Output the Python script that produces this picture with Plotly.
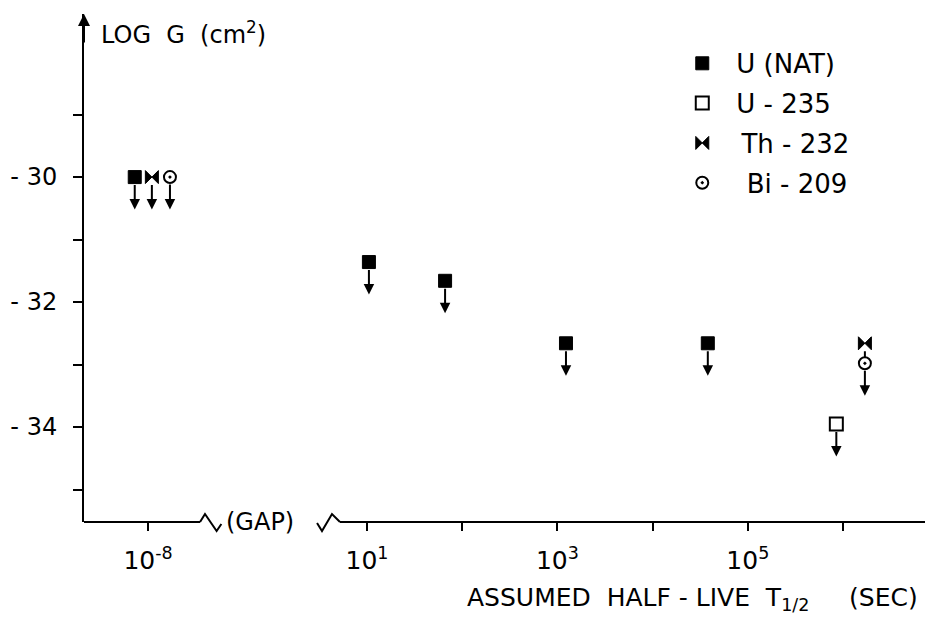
import plotly.graph_objects as go

# ---------------- data (log10 of assumed half-life [s], log10 G [cm^2]) -------------
U_NAT_LOGT = [-8.14, 1.02, 1.82, 3.09, 4.58]
U_NAT_LOGG = [-30.0, -31.36, -31.66, -32.66, -32.66]
U235_LOGT = [5.93]
U235_LOGG = [-33.95]
TH232_LOGT = [-7.96, 6.23]
TH232_LOGG = [-30.0, -32.66]
BI209_LOGT = [-7.77, 6.23]
BI209_LOGG = [-30.0, -32.98]

SERIES_NAMES = ["U (NAT)", "U - 235", "\u2009Th - 232", "\u2009\u2009Bi - 209"]

X_TICK_LOGT = [-8, 1, 2, 3, 4, 5, 6]
X_TICK_TEXT = ["10<sup>-8</sup>", "10<sup>1</sup>", "", "10<sup>3</sup>", "", "10<sup>5</sup>", ""]
Y_TICK_VALS = [-35, -34, -33, -32, -31, -30, -29]
Y_TICK_TEXT = ["", "- 34", "", "- 32", "", "- 30", ""]

# ---------------- axis break -----------------
GAP_CUT = 0.0      # log values below this are on the left segment
GAP_SHIFT = 6.70   # decades removed by the break


def disp(v):
    return v + GAP_SHIFT if v < GAP_CUT else v


X_RANGE = [-1.973, 6.935]
Y_RANGE = [-35.52, -27.39]
ARROW_LEN = 0.52
FONT = "DejaVu Sans"

fig = go.Figure()

styles = [
    dict(symbol="square", size=13, color="black", line=dict(color="black", width=1)),
    dict(symbol="square-open", size=13, color="black", line=dict(color="black", width=2)),
    dict(symbol="bowtie", size=13, color="black", line=dict(color="black", width=1)),
    dict(symbol="circle-open-dot", size=12, color="black", line=dict(color="black", width=2)),
]
all_x = [U_NAT_LOGT, U235_LOGT, TH232_LOGT, BI209_LOGT]
all_y = [U_NAT_LOGG, U235_LOGG, TH232_LOGG, BI209_LOGG]

points = []
for i, (xs, ys, st, nm) in enumerate(zip(all_x, all_y, styles, SERIES_NAMES)):
    dx = [disp(v) for v in xs]
    fig.add_trace(go.Scatter(
        x=dx, y=ys, mode="markers", name=nm, marker=st,
        legendgroup=f"g{i}", cliponaxis=False,
    ))
    for a, b in zip(dx, ys):
        points.append((round(a, 3), b, st["size"] / 2))

# upper-limit arrows: group markers sharing the same x
groups = {}
for a, b, r in points:
    groups.setdefault(a, []).append((b, r))
annotations = []
for a, lst in groups.items():
    lst.sort(key=lambda t: -t[0])
    for (y1, r1), (y2, r2) in zip(lst[:-1], lst[1:]):
        annotations.append(dict(
            x=a, y=y2, ax=a, ay=y1, xref="x", yref="y", axref="x", ayref="y",
            showarrow=True, arrowhead=0, arrowwidth=2, arrowcolor="black",
            standoff=r2, startstandoff=r1, text=""))
    yl, rl = lst[-1]
    annotations.append(dict(
        x=a, y=yl - ARROW_LEN, ax=a, ay=yl, xref="x", yref="y", axref="x", ayref="y",
        showarrow=True, arrowhead=2, arrowsize=1.05, arrowwidth=2, arrowcolor="black",
        standoff=0, startstandoff=rl, text=""))

# y-axis arrow and x-axis end
annotations.append(dict(x=0, y=1, xref="paper", yref="paper", ax=0, ay=30,
                        showarrow=True, arrowhead=2, arrowsize=1.2, arrowwidth=2,
                        arrowcolor="black", text=""))
annotations.append(dict(x=1, y=0, xref="paper", yref="paper", ax=-20, ay=0,
                        showarrow=True, arrowhead=6, arrowsize=1.0, arrowwidth=2,
                        arrowcolor="black", text=""))

# axis texts
annotations.append(dict(x=0, y=1, xref="paper", yref="paper", xanchor="left", yanchor="middle",
                        xshift=15, yshift=-19, showarrow=False,
                        text="LOG  G  (cm<sup>2</sup>)", font=dict(family=FONT, size=24, color="black")))
annotations.append(dict(x=1, y=0, xref="paper", yref="paper", xanchor="right", yanchor="middle",
                        xshift=-12, yshift=-77, showarrow=False,
                        text="ASSUMED  HALF - LIVE  T<sub>1/2</sub>     (SEC)",
                        font=dict(family=FONT, size=25, color="black")))

# broken x-axis line with zig-zags (positions in x-axis units, pixel offsets in y)
PX = 1.0 / 508.0
left_end, right_start = -0.754, 0.716
annotations.append(dict(x=-0.12, y=0, xref="x", yref="paper", showarrow=False,
                        text="(GAP)", yanchor="middle", font=dict(family=FONT, size=24, color="black")))
shapes = [
    dict(type="line", xref="x", yref="paper", x0=X_RANGE[0], x1=left_end, y0=0, y1=0,
         line=dict(color="black", width=2)),
    dict(type="line", xref="x", yref="paper", x0=right_start, x1=X_RANGE[1], y0=0, y1=0,
         line=dict(color="black", width=2)),
    dict(type="path", xref="x", yref="paper",
         path=f"M{left_end},0 L-0.702,{8*PX} L-0.58,{-9*PX} L-0.53,{-2*PX}",
         line=dict(color="black", width=2)),
    dict(type="path", xref="x", yref="paper",
         path=f"M0.475,{-1*PX} L0.527,{-9*PX} L0.632,{8*PX} L{right_start},0",
         line=dict(color="black", width=2)),
]

# the page body has an 8 px default margin, so the figure is 8 px smaller each way
fig.update_layout(
    width=925, height=613,
    margin=dict(l=76, r=1, t=6, b=99, autoexpand=False),
    paper_bgcolor="white", plot_bgcolor="white",
    font=dict(family=FONT, size=22, color="black"),
    showlegend=True,
    legend=dict(x=0.689, y=0.949, xanchor="left", yanchor="top", itemwidth=58,
                font=dict(family=FONT, size=26, color="black"),
                tracegroupgap=3, bgcolor="rgba(0,0,0,0)"),
    annotations=annotations,
    shapes=shapes,
    xaxis=dict(range=X_RANGE, showline=False, showgrid=False, zeroline=False, automargin=False,
               tickmode="array", tickvals=[disp(v) for v in X_TICK_LOGT], ticktext=X_TICK_TEXT,
               ticks="outside", ticklen=8, tickwidth=2, tickcolor="black",
               tickfont=dict(family=FONT, size=25, color="black"), ticklabelstandoff=8),
    yaxis=dict(range=Y_RANGE, showline=True, linewidth=2, linecolor="black", automargin=False,
               showgrid=False, zeroline=False,
               tickmode="array", tickvals=Y_TICK_VALS, ticktext=Y_TICK_TEXT,
               ticks="outside", ticklen=9, tickwidth=2, tickcolor="black",
               tickfont=dict(family=FONT, size=24, color="black"), ticklabelstandoff=11),
)

fig.write_html("out.html")
